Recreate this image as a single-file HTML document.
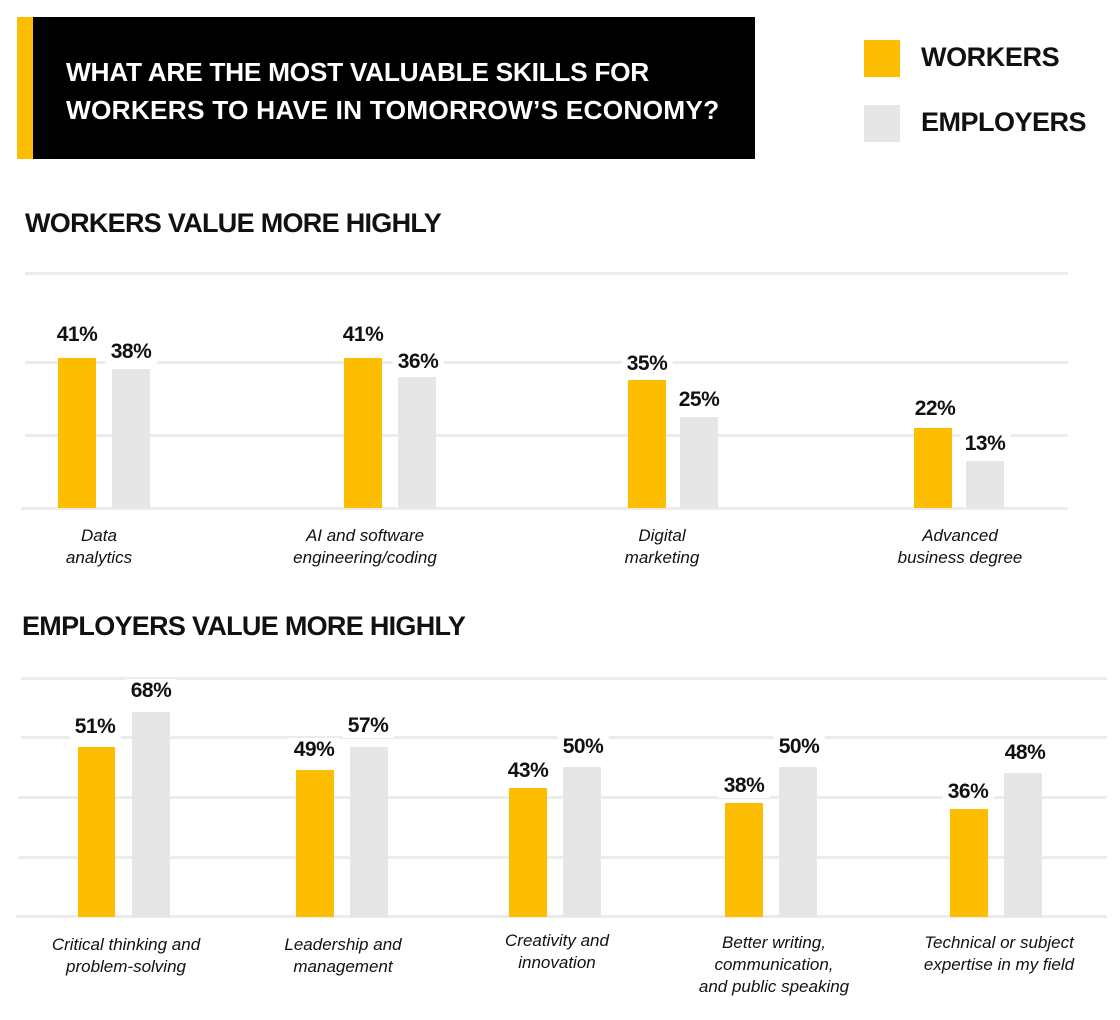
<!DOCTYPE html>
<html><head><meta charset="utf-8"><style>
body{margin:0;width:1120px;height:1020px;background:#fff;position:relative;overflow:hidden;font-family:"Liberation Sans",sans-serif;color:#111}
.a{position:absolute}
.g{position:absolute;height:3px;background:#ececec}
.b{position:absolute}
.y{background:#fdbd00}.e{background:#e6e6e6}
.v{position:absolute;font-weight:bold;font-size:21px;transform:translateX(-50%);background:#fff;padding:0 5px;line-height:24px;letter-spacing:-0.5px;white-space:nowrap}
.c{position:absolute;font-style:italic;font-size:17px;text-align:center;width:260px;line-height:22px}
.h{position:absolute;font-weight:bold;font-size:27px;letter-spacing:-0.7px}
</style></head><body>
<div class="a" style="left:17px;top:17px;width:738px;height:142px;background:#000"></div>
<div class="a" style="left:17px;top:17px;width:16px;height:142px;background:#fdbd00"></div>
<div class="a" style="left:66px;top:53px;color:#fff;font-weight:bold;font-size:26.3px;line-height:38px;letter-spacing:-0.3px">WHAT ARE THE MOST VALUABLE SKILLS FOR<br><span style="letter-spacing:0.2px">WORKERS TO HAVE IN TOMORROW’S ECONOMY?</span></div>
<div class="a y" style="left:864px;top:40px;width:36px;height:37px"></div>
<div class="a e" style="left:864px;top:105px;width:36px;height:37px"></div>
<div class="h" style="left:921px;top:42px;letter-spacing:-0.4px">WORKERS</div>
<div class="h" style="left:921px;top:107px;letter-spacing:-0.5px">EMPLOYERS</div>
<div class="h" style="left:25px;top:208px">WORKERS VALUE MORE HIGHLY</div>
<div class="h" style="left:22px;top:611px">EMPLOYERS VALUE MORE HIGHLY</div>

<div class="g" style="left:25px;top:272px;width:1043px"></div>
<div class="g" style="left:25px;top:361px;width:1043px"></div>
<div class="g" style="left:25px;top:434px;width:1043px"></div>
<div class="g" style="left:21px;top:507px;width:1047px"></div>

<div class="g" style="left:21px;top:677px;width:1086px"></div>
<div class="g" style="left:21px;top:736px;width:1086px"></div>
<div class="g" style="left:18px;top:796px;width:1089px"></div>
<div class="g" style="left:18px;top:856px;width:1089px"></div>
<div class="g" style="left:16px;top:915px;width:1091px"></div>

<div class="v" style="left:77px;top:323px">41%</div>
<div class="v" style="left:131px;top:340px">38%</div>
<div class="v" style="left:363px;top:323px">41%</div>
<div class="v" style="left:418px;top:350px">36%</div>
<div class="v" style="left:647px;top:352px">35%</div>
<div class="v" style="left:699px;top:388px">25%</div>
<div class="v" style="left:935px;top:397px">22%</div>
<div class="v" style="left:985px;top:432px">13%</div>

<div class="v" style="left:95px;top:715px">51%</div>
<div class="v" style="left:151px;top:679px">68%</div>
<div class="v" style="left:314px;top:738px">49%</div>
<div class="v" style="left:368px;top:714px">57%</div>
<div class="v" style="left:528px;top:759px">43%</div>
<div class="v" style="left:583px;top:735px">50%</div>
<div class="v" style="left:744px;top:774px">38%</div>
<div class="v" style="left:799px;top:735px">50%</div>
<div class="v" style="left:968px;top:780px">36%</div>
<div class="v" style="left:1025px;top:741px">48%</div>

<!-- top bars -->
<div class="b y" style="left:58px;top:358px;width:38px;height:150px"></div>
<div class="b e" style="left:112px;top:369px;width:38px;height:139px"></div>
<div class="b y" style="left:344px;top:358px;width:38px;height:150px"></div>
<div class="b e" style="left:398px;top:377px;width:38px;height:131px"></div>
<div class="b y" style="left:628px;top:380px;width:38px;height:128px"></div>
<div class="b e" style="left:680px;top:417px;width:38px;height:91px"></div>
<div class="b y" style="left:914px;top:428px;width:38px;height:80px"></div>
<div class="b e" style="left:966px;top:461px;width:38px;height:47px"></div>
<div class="c" style="left:-31px;top:525px">Data<br>analytics</div>
<div class="c" style="left:235px;top:525px">AI and software<br>engineering/coding</div>
<div class="c" style="left:532px;top:525px">Digital<br>marketing</div>
<div class="c" style="left:830px;top:525px">Advanced<br>business degree</div>

<!-- bottom bars -->
<div class="b y" style="left:78px;top:747px;width:37px;height:170px"></div>
<div class="b e" style="left:132px;top:712px;width:38px;height:205px"></div>
<div class="b y" style="left:296px;top:770px;width:38px;height:147px"></div>
<div class="b e" style="left:350px;top:747px;width:38px;height:170px"></div>
<div class="b y" style="left:509px;top:788px;width:38px;height:129px"></div>
<div class="b e" style="left:563px;top:767px;width:38px;height:150px"></div>
<div class="b y" style="left:725px;top:803px;width:38px;height:114px"></div>
<div class="b e" style="left:779px;top:767px;width:38px;height:150px"></div>
<div class="b y" style="left:950px;top:809px;width:38px;height:108px"></div>
<div class="b e" style="left:1004px;top:773px;width:38px;height:144px"></div>
<div class="c" style="left:-4px;top:934px">Critical thinking and<br>problem-solving</div>
<div class="c" style="left:213px;top:934px">Leadership and<br>management</div>
<div class="c" style="left:427px;top:930px">Creativity and<br>innovation</div>
<div class="c" style="left:644px;top:932px">Better writing,<br>communication,<br>and public speaking</div>
<div class="c" style="left:869px;top:932px">Technical or subject<br>expertise in my field</div>
</body></html>
